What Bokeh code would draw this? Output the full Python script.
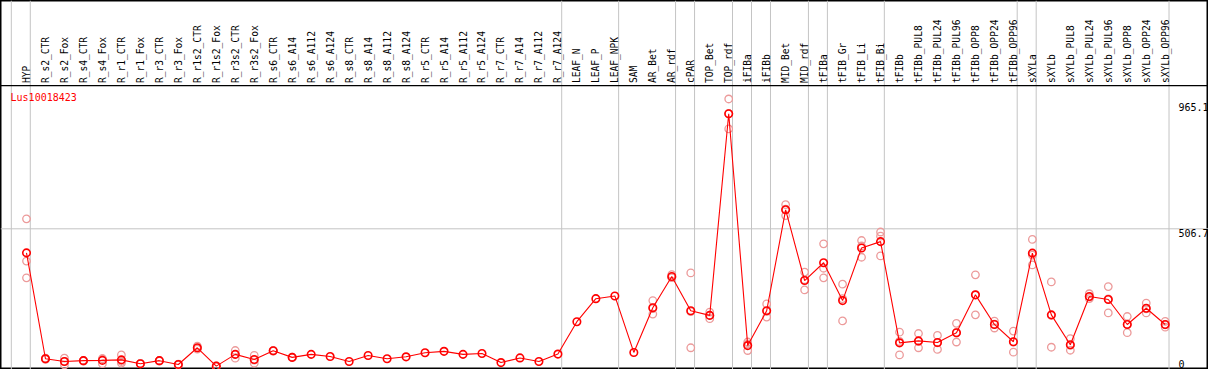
import math
from bokeh.plotting import figure
from bokeh.models import Range1d, Span, ColumnDataSource
from bokeh.embed import file_html
from bokeh.resources import INLINE
from bokeh.core.properties import value

gene = "Lus10018423"

categories = [
    "HYP", "R_s2_CTR", "R_s2_Fox", "R_s4_CTR", "R_s4_Fox", "R_r1_CTR", "R_r1_Fox",
    "R_r3_CTR", "R_r3_Fox", "R_r1s2_CTR", "R_r1s2_Fox", "R_r3s2_CTR", "R_r3s2_Fox",
    "R_s6_CTR", "R_s6_A14", "R_s6_A112", "R_s6_A124", "R_s8_CTR", "R_s8_A14",
    "R_s8_A112", "R_s8_A124", "R_r5_CTR", "R_r5_A14", "R_r5_A112", "R_r5_A124",
    "R_r7_CTR", "R_r7_A14", "R_r7_A112", "R_r7_A124", "LEAF_N", "LEAF_P", "LEAF_NPK",
    "SAM", "AR_Bet", "AR_rdf", "cPAR", "TOP_Bet", "TOP_rdf", "iFIBa", "iFIBb",
    "MID_Bet", "MID_rdf", "tFIBa", "tFIB_Gr", "tFIB_Li", "tFIB_Bi", "tFIBb",
    "tFIBb_PUL8", "tFIBb_PUL24", "tFIBb_PUL96", "tFIBb_OPP8", "tFIBb_OPP24",
    "tFIBb_OPP96", "sXYLa", "sXYLb", "sXYLb_PUL8", "sXYLb_PUL24", "sXYLb_PUL96",
    "sXYLb_OPP8", "sXYLb_OPP24", "sXYLb_OPP96",
]

means = [
    419, 33, 23, 26, 27, 29, 15, 26, 12, 73, 6, 49, 30, 62, 38,
    49, 41, 23, 45, 33, 40, 55, 60, 49, 52, 19, 36, 23, 50,
    168, 252, 262, 56,
    219, 333, 208, 191, 926, 81, 208, 576, 318, 383, 245, 437, 460,
    91, 98, 92, 128, 266, 158, 95, 418, 193, 84, 260, 249, 158, 217, 158,
]

replicates = [
    [543, 389, 328], [35, 31, 33], [35, 11, 23], [27, 24, 26], [33, 15, 33],
    [47, 17, 23], [15, 14, 16], [26, 24, 27], [12, 11, 13], [79, 68, 72],
    [6, 5, 7], [63, 35, 49], [45, 17, 28], [62, 61, 63], [38, 37, 39],
    [], [], [], [], [], [], [], [], [], [], [], [], [], [],
    [], [], [], [],
    [245, 196, 216], [340, 330, 329], [346, 73, 205], [203, 179, 191],
    [980, 871, 927], [94, 63, 86], [233, 185, 206], [595, 555, 578],
    [349, 284, 321], [452, 363, 328], [305, 171, 252], [464, 403, 444],
    [495, 480, 408],
    [130, 47, 96], [125, 73, 96], [118, 67, 91], [162, 94, 128], [339, 193, 266],
    [170, 145, 159], [134, 57, 94], [468, 375, 411], [313, 75, 191], [106, 64, 82],
    [270, 252, 258], [296, 200, 251], [187, 128, 159], [236, 215, 200], [169, 148, 157],
]

tick_values = [0, 506.7, 965.1]
tick_labels = ["0", "506.7", "965.1"]
group_ends = [-1, 0, 28, 31, 34, 35, 37, 38, 39, 41, 42, 45, 52, 53, 60]

n = len(categories)
xs = list(range(n))
rep_x = [i for i, reps in enumerate(replicates) for _ in reps]
rep_y = [v for reps in replicates for v in reps]

Y_SEP = 1029
Y_TOP = 1339

p = figure(width=1208, height=369, output_backend="svg", toolbar_location=None,
           x_range=Range1d(-1.37, 62.28), y_range=Range1d(-6.2, Y_TOP),
           x_axis_location=None, y_axis_location=None, min_border=0,
           background_fill_color="white", border_fill_color="white")
p.grid.visible = False
p.outline_line_color = "black"
p.outline_line_width = 2

for g in group_ends:
    p.add_layout(Span(location=g + 0.2, dimension="height", line_color="#C4C4C4",
                      line_width=1, level="underlay"))
p.add_layout(Span(location=tick_values[1], dimension="width", line_color="#C4C4C4",
                  line_width=1, level="underlay"))
p.add_layout(Span(location=Y_SEP, dimension="width", line_color="black", line_width=1.2))

p.scatter(rep_x, rep_y, marker="circle", size=7.5, fill_color=None,
          line_color="#EC9A9A", line_width=1.3)
p.line(xs, means, line_color="red", line_width=1.1)
p.scatter(xs, means, marker="circle", size=7.5, fill_color=None,
          line_color="red", line_width=1.6)

p.text(x=xs, y=[1038] * n, text=categories, angle=math.pi / 2,
       text_align="left", text_baseline="middle",
       text_font=value("DejaVu Sans Mono"), text_font_size="9.6px",
       text_color="black")

p.text(x=[-0.84], y=[1007], text=[gene], text_align="left", text_baseline="top",
       text_font=value("DejaVu Sans Mono"), text_font_size="10px", text_color="red")

tsrc = ColumnDataSource(dict(
    x=[60.7] * len(tick_values), y=tick_values, t=tick_labels,
    b=["bottom" if v == 0 else "top" for v in tick_values]))
p.text(x="x", y="y", text="t", text_baseline="b", text_align="left", source=tsrc,
       text_font=value("DejaVu Sans Mono"), text_font_size="10px", text_color="black")

open("out.html", "w").write(file_html(p, INLINE))
